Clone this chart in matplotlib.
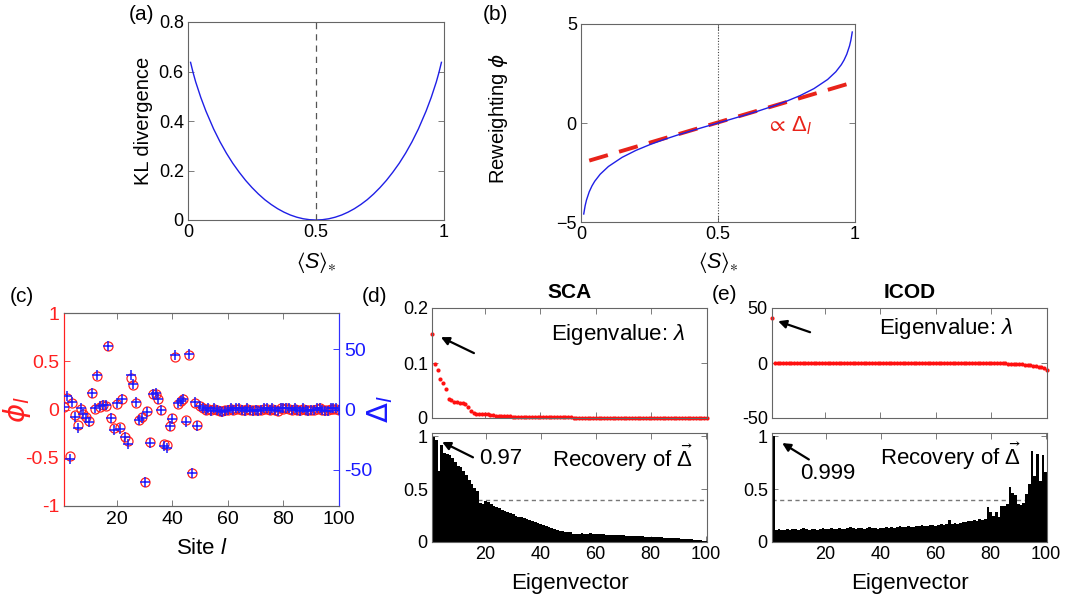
import matplotlib
matplotlib.use("Agg")
import matplotlib.pyplot as plt
import numpy as np

plt.rcParams['font.family'] = ['Liberation Sans', 'DejaVu Sans']
plt.rcParams['mathtext.fontset'] = 'custom'
plt.rcParams['mathtext.rm'] = 'Liberation Sans'
plt.rcParams['mathtext.it'] = 'Liberation Sans:italic'
plt.rcParams['mathtext.bf'] = 'Liberation Sans:bold'
plt.rcParams['mathtext.fallback'] = 'stixsans'

# ---------------- data ----------------
# (a) KL divergence vs <S>*
s_kl = [0.01, 0.02, 0.03, 0.05, 0.07, 0.10, 0.125, 0.15, 0.175, 0.20, 0.225, 0.25, 0.275, 0.30,
        0.325, 0.35, 0.375, 0.40, 0.425, 0.45, 0.475, 0.50, 0.525, 0.55, 0.575, 0.60, 0.625,
        0.65, 0.675, 0.70, 0.725, 0.75, 0.775, 0.80, 0.825, 0.85, 0.875, 0.90, 0.93, 0.95,
        0.97, 0.98, 0.99]
kl_vals = [0.637, 0.595, 0.558, 0.495, 0.440, 0.368, 0.316, 0.270, 0.229, 0.193, 0.160, 0.131,
           0.105, 0.082, 0.0626, 0.0457, 0.0316, 0.0201, 0.0113, 0.0050, 0.00125, 0.0, 0.00125,
           0.0050, 0.0113, 0.0201, 0.0316, 0.0457, 0.0626, 0.082, 0.105, 0.131, 0.160, 0.193,
           0.229, 0.270, 0.316, 0.368, 0.440, 0.495, 0.558, 0.595, 0.637]

# (b) reweighting phi vs <S>*
s_phi = [0.01, 0.015, 0.02, 0.03, 0.04, 0.05, 0.07, 0.10, 0.15, 0.20, 0.25, 0.30, 0.35, 0.40,
         0.45, 0.50, 0.55, 0.60, 0.65, 0.70, 0.75, 0.80, 0.85, 0.90, 0.93, 0.95, 0.96, 0.97,
         0.98, 0.985, 0.99]
phi_vals = [-4.595, -4.184, -3.892, -3.476, -3.178, -2.944, -2.587, -2.197, -1.735, -1.386,
            -1.099, -0.847, -0.619, -0.405, -0.201, 0.0, 0.201, 0.405, 0.619, 0.847, 1.099,
            1.386, 1.735, 2.197, 2.587, 2.944, 3.178, 3.476, 3.892, 4.184, 4.595]
lin_s = [0.03, 0.98]
lin_phi = [-1.9, 2.0]

# (c) site-wise phi_l and Delta_l
sites = list(range(1, 101))
phi_l = [0.03, 0.12, -0.48, 0.07, -0.06, -0.16, 0.01, -0.05, -0.08, -0.12,
         0.17, 0.01, 0.35, 0.03, 0.05, 0.04, 0.66, -0.09, -0.19, 0.06,
         -0.18, 0.11, -0.28, -0.33, 0.33, 0.25, 0.07, -0.11, -0.08, -0.75,
         -0.02, -0.34, 0.16, 0.16, 0.11, 0.00, -0.36, -0.37, -0.17, -0.09,
         0.54, 0.06, 0.09, 0.11, -0.11, 0.56, -0.66, 0.07, -0.16, 0.04,
         0.02, 0.00, 0.01, -0.01, 0.01, 0.00, -0.02, -0.02, -0.01, 0.00,
         0.01, 0.00, 0.01, 0.01, 0.00, -0.01, 0.01, 0.00, -0.01, 0.00,
         -0.01, 0.00, 0.01, 0.01, 0.00, 0.01, 0.00, -0.02, 0.02, 0.01,
         0.02, 0.01, 0.00, 0.01, 0.00, -0.01, 0.01, 0.00, -0.01, 0.00,
         0.00, 0.01, 0.02, 0.00, -0.01, -0.01, 0.01, 0.01, 0.01, 0.00]
delta_l = [2, 11, -41, 6, -6, -15, 1, -4, -7, -10,
           14, 1, 29, 3, 4, 4, 53, -7, -17, 5,
           -16, 9, -23, -29, 29, 21, 6, -9, -7, -60,
           -2, -28, 13, 14, 9, 0, -30, -32, -14, -8,
           45, 5, 7, 9, -10, 46, -53, 6, -14, 3,
           1.5, 0, 1, -1, 1, 0, -1.5, -2, -1, 0,
           1, 0, 1, 1, 0, -1, 1, 0, -1, 0,
           -1, 0, 1, 1, 0, 1, 0, -1.5, 1.5, 1,
           1.5, 1, 0, 1, 0, -1, 1, 0, -1, 0,
           0, 1, 1.5, 0, -1, -1, 1, 1, 1, 0]

# (d) SCA
eig_idx = list(range(1, 101))
sca_eig = [0.152, 0.098, 0.087, 0.071, 0.063, 0.052, 0.035, 0.032, 0.030, 0.029,
           0.027, 0.027, 0.025, 0.020, 0.013, 0.009, 0.007, 0.007, 0.0068, 0.0066,
           0.0065, 0.006, 0.005, 0.0045, 0.004, 0.0035, 0.0032, 0.003, 0.0028, 0.0026,
           0.0024, 0.0023, 0.0022, 0.0021, 0.002, 0.0019, 0.0018, 0.0017, 0.0016, 0.0015,
           0.0014, 0.0014, 0.0013, 0.0013, 0.0012, 0.0012, 0.0011, 0.0011, 0.001, 0.001,
           0.001, 0.0009, 0.0009, 0.0009, 0.0009, 0.0008, 0.0008, 0.0008, 0.0008, 0.0008,
           0.0007, 0.0007, 0.0007, 0.0007, 0.0007, 0.0006, 0.0006, 0.0006, 0.0006, 0.0006,
           0.0005, 0.0005, 0.0005, 0.0005, 0.0005, 0.0004, 0.0004, 0.0004, 0.0004, 0.0004,
           0.0003, 0.0003, 0.0003, 0.0003, 0.0003, 0.0003, 0.0002, 0.0002, 0.0002, 0.0002,
           0.0002, 0.0002, 0.0002, 0.0001, 0.0001, 0.0001, 0.0001, 0.0001, 0.0001, 0.0001]
sca_rec = [0.99, 0.96, 0.67, 0.92, 0.84, 0.83, 0.82, 0.79, 0.76, 0.72,
           0.71, 0.67, 0.63, 0.59, 0.55, 0.51, 0.48, 0.37, 0.36, 0.39,
           0.38, 0.36, 0.34, 0.33, 0.32, 0.30, 0.29, 0.28, 0.27, 0.26,
           0.25, 0.24, 0.24, 0.23, 0.22, 0.21, 0.20, 0.19, 0.18, 0.17,
           0.16, 0.15, 0.14, 0.13, 0.12, 0.11, 0.10, 0.10, 0.09, 0.09,
           0.09, 0.08, 0.08, 0.08, 0.085, 0.08, 0.08, 0.085, 0.08, 0.08,
           0.08, 0.075, 0.075, 0.07, 0.07, 0.07, 0.07, 0.065, 0.065, 0.065,
           0.06, 0.06, 0.06, 0.06, 0.055, 0.055, 0.055, 0.05, 0.05, 0.05,
           0.05, 0.045, 0.045, 0.045, 0.04, 0.04, 0.04, 0.035, 0.035, 0.035,
           0.03, 0.03, 0.03, 0.025, 0.025, 0.02, 0.02, 0.015, 0.01, 0.008]

# (e) ICOD
icod_eig = [41.0, 0.3, 0.3, 0.3, 0.3, 0.3, 0.3, 0.3, 0.3, 0.3,
            0.3, 0.3, 0.3, 0.3, 0.3, 0.3, 0.3, 0.3, 0.3, 0.3,
            0.3, 0.3, 0.3, 0.3, 0.3, 0.3, 0.3, 0.3, 0.3, 0.3,
            0.25, 0.25, 0.25, 0.25, 0.25, 0.25, 0.25, 0.25, 0.25, 0.25,
            0.25, 0.25, 0.25, 0.25, 0.25, 0.2, 0.2, 0.2, 0.2, 0.2,
            0.2, 0.2, 0.2, 0.2, 0.2, 0.2, 0.2, 0.2, 0.2, 0.2,
            0.15, 0.15, 0.15, 0.15, 0.15, 0.15, 0.15, 0.15, 0.15, 0.15,
            0.1, 0.1, 0.1, 0.1, 0.1, 0.1, 0.05, 0.05, 0.05, 0.0,
            0.0, -0.1, -0.2, -0.3, -0.4, -0.5, -0.6, -0.7, -0.9, -1.1,
            -1.3, -1.5, -1.8, -2.1, -2.5, -2.9, -3.4, -4.0, -4.8, -6.0]
icod_rec = [1.0, 0.11, 0.12, 0.11, 0.11, 0.12, 0.11, 0.12, 0.12, 0.11,
            0.12, 0.13, 0.12, 0.11, 0.12, 0.12, 0.11, 0.12, 0.13, 0.12,
            0.12, 0.13, 0.12, 0.12, 0.13, 0.12, 0.12, 0.13, 0.14, 0.13,
            0.12, 0.13, 0.13, 0.12, 0.13, 0.14, 0.13, 0.13, 0.12, 0.13,
            0.13, 0.14, 0.13, 0.14, 0.13, 0.14, 0.15, 0.14, 0.14, 0.15,
            0.14, 0.14, 0.15, 0.15, 0.16, 0.15, 0.15, 0.16, 0.16, 0.15,
            0.16, 0.17, 0.16, 0.17, 0.21, 0.17, 0.18, 0.17, 0.18, 0.19,
            0.19, 0.20, 0.20, 0.21, 0.20, 0.22, 0.21, 0.22, 0.33, 0.28,
            0.25, 0.28, 0.24, 0.34, 0.34, 0.36, 0.52, 0.46, 0.44, 0.36,
            0.35, 0.37, 0.45, 0.55, 0.86, 0.62, 0.83, 0.58, 0.82, 0.66]
threshold = 0.4

# ---------------- figure ----------------
W, H = 1065, 599
fig = plt.figure(figsize=(W / 100, H / 100), dpi=100)
SPINE = '#666666'
TFS = 13      # tick labels
LFS = 14.5    # axis labels
AFS = 16      # annotations
PFS = 15      # panel labels


def px_axes(l, t, r, b):
    return fig.add_axes([l / W, 1 - b / H, (r - l) / W, (b - t) / H])


def style(ax, color=SPINE):
    for sp in ax.spines.values():
        sp.set_color(color)
        sp.set_linewidth(0.8)
    ax.tick_params(direction='in', top=True, right=True, length=4, width=0.6,
                   color=SPINE, labelsize=TFS, pad=3)


ARROW = dict(arrowstyle='-|>', color='black', lw=1.6, mutation_scale=12, shrinkA=0, shrinkB=0)

# (a)
axa = px_axes(188, 22, 444, 220)
axa.plot(s_kl, kl_vals, color='#1f1fe6', lw=1.0)
axa.axvline(0.5, color='#555555', ls=(0, (5, 4)), lw=0.9)
axa.set_xlim(0, 1)
axa.set_ylim(0, 0.8)
axa.set_xticks([0, 0.5, 1])
axa.set_xticklabels(['0', '0.5', '1'])
axa.set_yticks([0, 0.2, 0.4, 0.6, 0.8])
axa.set_yticklabels(['0', '0.2', '0.4', '0.6', '0.8'])
style(axa)
axa.set_ylabel('KL divergence', fontsize=LFS)
axa.yaxis.set_label_coords(-0.137, 0.5)
axa.set_xlabel(r'$\langle S\rangle_{\ast}$', fontsize=LFS + 1)
axa.xaxis.set_label_coords(0.5, -0.15)
fig.text(129 / W, 1 - 14 / H, '(a)', fontsize=PFS, va='center', ha='left')

# (b)
axb = px_axes(581, 24, 855, 222)
axb.plot(s_phi, phi_vals, color='#1f1fe6', lw=1.0, zorder=3)
axb.plot(lin_s, lin_phi, color='#e8231a', lw=2.8, ls=(0, (5, 3)), zorder=2)
axb.axvline(0.5, color='#444444', ls=(0, (1, 1.5)), lw=0.8)
axb.set_xlim(0, 1)
axb.set_ylim(-5, 5)
axb.set_xticks([0, 0.5, 1])
axb.set_xticklabels(['0', '0.5', '1'])
axb.set_yticks([-5, 0, 5])
style(axb)
axb.set_ylabel(r'Reweighting $\phi$', fontsize=LFS, math_fontfamily='dejavusans')
axb.yaxis.set_label_coords(-0.259, 0.525)
axb.set_xlabel(r'$\langle S\rangle_{\ast}$', fontsize=LFS + 1)
axb.xaxis.set_label_coords(0.5, -0.141)
axb.text(0.675, -0.15, r'$\propto\,\Delta_l$', color='#e8231a', fontsize=AFS,
         ha='left', va='center')
fig.text(483 / W, 1 - 14 / H, '(b)', fontsize=PFS, va='center', ha='left')

# (c)
axc = px_axes(64, 313, 339, 506)
axc2 = axc.twinx()
axc.plot(sites, phi_l, ls='none', marker='o', mfc='none', mec='#ff2020', ms=6.5, mew=0.9,
         zorder=2)
axc2.plot(sites, delta_l, ls='none', marker='+', color='#1a1aff', ms=7, mew=1.1, zorder=3)
axc.set_xlim(1, 100)
axc.set_ylim(-1, 1)
axc2.set_ylim(-80, 80)
axc.set_xticks([20, 40, 60, 80, 100])
axc.set_yticks([-1, -0.5, 0, 0.5, 1])
axc.set_yticklabels(['-1', '-0.5', '0', '0.5', '1'])
axc2.set_yticks([-50, 0, 50])
axc2.set_yticklabels(['-50', '0', '50'])
for a in (axc, axc2):
    for sp in a.spines.values():
        sp.set_color(SPINE)
        sp.set_linewidth(0.8)
axc.spines['left'].set_color('#ff2020')
axc2.spines['left'].set_color('#ff2020')
axc.spines['right'].set_color('#3030ff')
axc2.spines['right'].set_color('#3030ff')
axc.tick_params(axis='x', direction='in', top=True, length=4, width=0.6, color=SPINE,
                labelsize=TFS + 1)
axc.tick_params(axis='y', direction='in', length=4, width=0.6, colors='#ff2020',
                labelsize=TFS + 1)
axc2.tick_params(axis='y', direction='in', length=4, width=0.6, colors='#1a1aff',
                 labelsize=TFS + 1)
axc.set_ylabel(r'$\phi_l$', color='#ff2020', fontsize=21, math_fontfamily='dejavusans')
axc.yaxis.set_label_coords(-0.113, 0.5)
axc2.set_ylabel(r'$\Delta_l$', color='#1a1aff', fontsize=21, rotation=90,
                math_fontfamily='dejavusans')
axc2.yaxis.set_label_coords(1.095, 0.5)
axc.set_xlabel(r'Site $l$', fontsize=LFS + 1.5)
axc.xaxis.set_label_coords(0.5, -0.166)
fig.text(10 / W, 1 - 297 / H, '(c)', fontsize=PFS, va='center', ha='left')

# (d)
axd1 = px_axes(432, 308, 707, 418)
axd2 = px_axes(432, 433, 707, 542)
axd1.plot(eig_idx, sca_eig, ls='none', marker='o', color='#ff1010', ms=3, mew=0,
          clip_on=False)
axd1.set_xlim(1, 100)
axd1.set_ylim(0, 0.2)
axd1.set_xticks([20, 40, 60, 80, 100])
axd1.set_xticklabels([])
axd1.set_yticks([0, 0.1, 0.2])
axd1.set_yticklabels(['0', '0.1', '0.2'])
style(axd1)
axd1.set_title('SCA', fontsize=15, fontweight='bold', pad=7)
axd1.annotate('', xy=(4.2, 0.147), xytext=(16.1, 0.118), arrowprops=ARROW)
axd1.text(43.8, 0.151, r'Eigenvalue: $\lambda$', fontsize=AFS, ha='left', va='center')

axd2.axhline(threshold, color='#777777', ls=(0, (3, 2.5)), lw=1.0, zorder=1)
axd2.bar(eig_idx, sca_rec, width=1.0, color='black', edgecolor='none', zorder=2)
axd2.set_xlim(0.5, 100.5)
axd2.set_ylim(0, 1.03)
axd2.set_xticks([20, 40, 60, 80, 100])
axd2.set_yticks([0, 0.5, 1])
axd2.set_yticklabels(['0', '0.5', '1'])
style(axd2)
axd2.set_xlabel('Eigenvector', fontsize=AFS)
axd2.xaxis.set_label_coords(0.5, -0.28)
axd2.annotate('', xy=(4.2, 0.945), xytext=(15.4, 0.80), arrowprops=ARROW)
axd2.text(17.6, 0.79, '0.97', fontsize=AFS, ha='left', va='center')
axd2.text(44.0, 0.79, r'Recovery of $\vec{\Delta}$', fontsize=AFS, ha='left', va='center')
fig.text(362 / W, 1 - 297 / H, '(d)', fontsize=PFS, va='center', ha='left')

# (e)
axe1 = px_axes(772, 308, 1047, 418)
axe2 = px_axes(772, 433, 1047, 542)
axe1.plot(eig_idx, icod_eig, ls='none', marker='o', color='#ff1010', ms=3, mew=0,
          clip_on=False)
axe1.set_xlim(1, 100)
axe1.set_ylim(-50, 50)
axe1.set_xticks([20, 40, 60, 80, 100])
axe1.set_xticklabels([])
axe1.set_yticks([-50, 0, 50])
axe1.set_yticklabels(['-50', '0', '50'])
style(axe1)
axe1.set_title('ICOD', fontsize=15, fontweight='bold', pad=7)
axe1.annotate('', xy=(3.2, 38), xytext=(14.7, 28), arrowprops=ARROW)
axe1.text(39.5, 31, r'Eigenvalue: $\lambda$', fontsize=AFS, ha='left', va='center')

axe2.axhline(threshold, color='#777777', ls=(0, (3, 2.5)), lw=1.0, zorder=1)
axe2.bar(eig_idx, icod_rec, width=1.0, color='black', edgecolor='none', zorder=2)
axe2.set_xlim(0.5, 100.5)
axe2.set_ylim(0, 1.03)
axe2.set_xticks([20, 40, 60, 80, 100])
axe2.set_yticks([0, 0.5, 1])
axe2.set_yticklabels(['0', '0.5', '1'])
style(axe2)
axe2.set_xlabel('Eigenvector', fontsize=AFS)
axe2.xaxis.set_label_coords(0.5, -0.28)
axe2.annotate('', xy=(4.2, 0.935), xytext=(13.9, 0.78), arrowprops=ARROW)
axe2.text(10.8, 0.65, '0.999', fontsize=AFS, ha='left', va='center')
axe2.text(39.8, 0.81, r'Recovery of $\vec{\Delta}$', fontsize=AFS, ha='left', va='center')
fig.text(712 / W, 1 - 295 / H, '(e)', fontsize=PFS, va='center', ha='left')

fig.savefig('out.png', dpi=100)
